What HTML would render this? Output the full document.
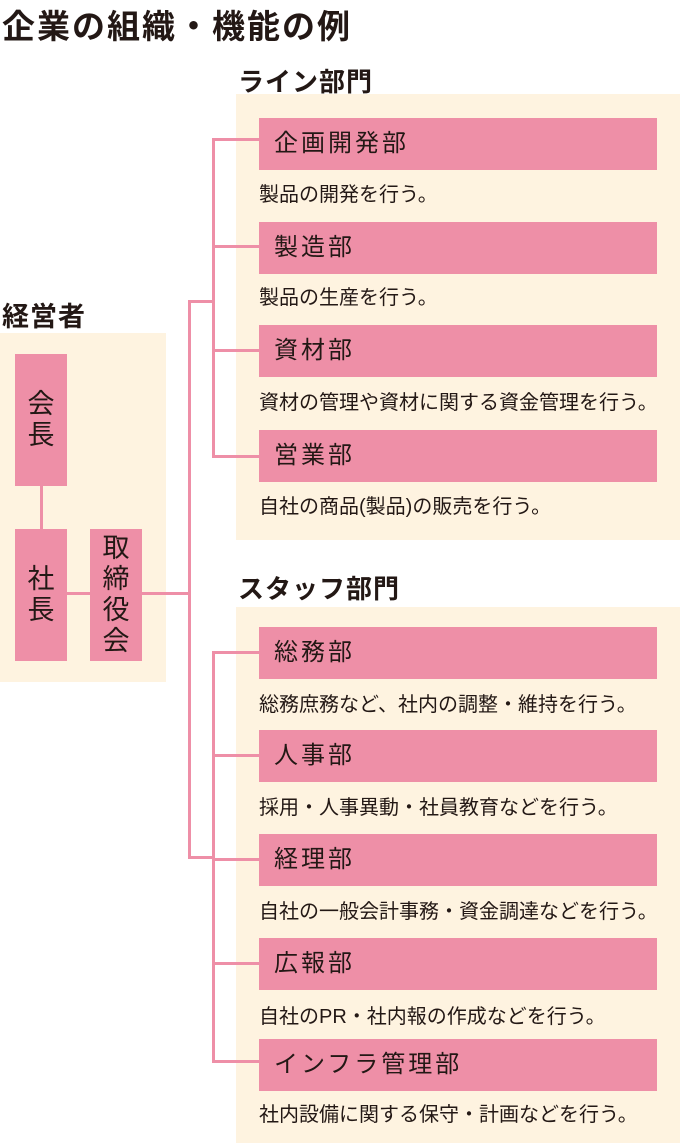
<!DOCTYPE html>
<html><head><meta charset="utf-8"><style>
body{margin:0;width:680px;height:1144px;background:#fff;position:relative;overflow:hidden;font-family:"Liberation Sans","Noto Sans CJK JP",sans-serif;color:#231815}
div{position:absolute;box-sizing:border-box}
.panel{background:#fef3e0}
.box{background:#ee8fa7;left:259px;width:398px;height:52px;font-size:24px;letter-spacing:3px;line-height:52px;padding-left:15px}
.desc{left:259px;font-size:20px;line-height:24px;white-space:nowrap;letter-spacing:0px}
.h{font-weight:bold;font-size:26px;letter-spacing:1px;white-space:nowrap}
.vbox{background:#ee8fa7;width:52px;font-size:27px;line-height:31px;text-align:center;display:flex;align-items:center;justify-content:center}
.l{background:#ee8fa7}
</style></head><body>
<div class="h" style="left:2px;top:0px;font-size:33px;letter-spacing:2px">企業の組織・機能の例</div>

<div class="h" style="left:238px;top:62px">ライン部門</div>
<div class="panel" style="left:236px;top:94px;width:444px;height:446px"></div>
<div class="h" style="left:238px;top:569px">スタッフ部門</div>
<div class="panel" style="left:236px;top:607px;width:444px;height:536px"></div>
<div class="h" style="left:2px;top:295px;font-size:27px">経営者</div>
<div class="panel" style="left:0;top:333px;width:166px;height:349px"></div>

<div class="l" style="left:40px;top:486px;width:3px;height:43px"></div>
<div class="l" style="left:67px;top:592px;width:23px;height:3px"></div>
<div class="l" style="left:142px;top:592px;width:48px;height:3px"></div>
<div class="l" style="left:188px;top:300px;width:3px;height:559px"></div>
<div class="l" style="left:188px;top:300px;width:26px;height:3px"></div>
<div class="l" style="left:188px;top:856px;width:26px;height:3px"></div>
<div class="l" style="left:212px;top:138px;width:3px;height:320px"></div>
<div class="l" style="left:212px;top:651px;width:3px;height:412px"></div>
<div class="l" style="left:212px;top:138px;width:47px;height:3px"></div>
<div class="l" style="left:212px;top:245px;width:47px;height:3px"></div>
<div class="l" style="left:212px;top:349px;width:47px;height:3px"></div>
<div class="l" style="left:212px;top:455px;width:47px;height:3px"></div>
<div class="l" style="left:212px;top:651px;width:47px;height:3px"></div>
<div class="l" style="left:212px;top:754px;width:47px;height:3px"></div>
<div class="l" style="left:212px;top:858px;width:47px;height:3px"></div>
<div class="l" style="left:212px;top:962px;width:47px;height:3px"></div>
<div class="l" style="left:212px;top:1060px;width:47px;height:3px"></div>

<div class="vbox" style="left:15px;top:354px;height:132px">会<br>長</div>
<div class="vbox" style="left:15px;top:529px;height:132px">社<br>長</div>
<div class="vbox" style="left:90px;top:529px;height:132px">取<br>締<br>役<br>会</div>

<div class="box" style="top:118px">企画開発部</div>
<div class="desc" style="top:183px">製品の開発を行う。</div>
<div class="box" style="top:222px">製造部</div>
<div class="desc" style="top:286px">製品の生産を行う。</div>
<div class="box" style="top:325px">資材部</div>
<div class="desc" style="top:391px">資材の管理や資材に関する資金管理を行う。</div>
<div class="box" style="top:430px">営業部</div>
<div class="desc" style="top:495px">自社の商品(製品)の販売を行う。</div>

<div class="box" style="top:627px">総務部</div>
<div class="desc" style="top:693px">総務庶務など、社内の調整・維持を行う。</div>
<div class="box" style="top:730px">人事部</div>
<div class="desc" style="top:796px">採用・人事異動・社員教育などを行う。</div>
<div class="box" style="top:834px">経理部</div>
<div class="desc" style="top:900px">自社の一般会計事務・資金調達などを行う。</div>
<div class="box" style="top:938px">広報部</div>
<div class="desc" style="top:1005px">自社のPR・社内報の作成などを行う。</div>
<div class="box" style="top:1039px">インフラ管理部</div>
<div class="desc" style="top:1103px">社内設備に関する保守・計画などを行う。</div>
</body></html>
